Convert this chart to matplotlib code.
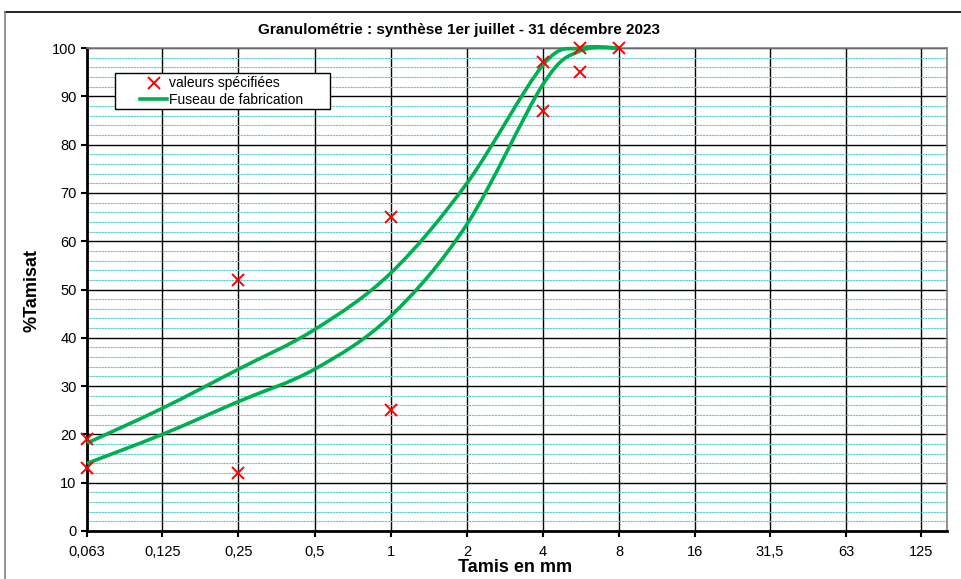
import numpy as np
import matplotlib
matplotlib.use("Agg")
from matplotlib import pyplot as plt
from matplotlib.path import Path
from matplotlib.patches import PathPatch, Rectangle
from matplotlib.lines import Line2D
from matplotlib.ticker import MultipleLocator, NullLocator, FixedLocator, FixedFormatter

plt.rcParams["font.family"] = ["Liberation Sans", "DejaVu Sans"]

# sieve ticks
tick_values = [0.063, 0.125, 0.25, 0.5, 1, 2, 4, 8, 16, 31.5, 63, 125]
tick_labels = ["0,063", "0,125", "0,25", "0,5", "1", "2", "4", "8", "16", "31,5", "63", "125"]

# specified values (red crosses)
spec_x = [0.063, 0.063, 0.25, 0.25, 1, 1, 4, 4, 5.6, 5.6, 8]
spec_y = [19, 13, 52, 12, 65, 25, 97, 87, 100, 95, 100]

# production envelope (fuseau de fabrication)
fuseau_x = [0.063, 0.125, 0.25, 0.5, 1, 2, 4, 5.6, 8]
fuseau_upper = [18.2, 25.4, 33.5, 41.7, 53.4, 72, 96.5, 100, 100]
fuseau_lower = [14, 20, 26.8, 33.5, 44.5, 63.5, 92.5, 99.4, 100]

GREEN = "#00b050"
RED = "#ff0000"


def smooth_path(xs, ys):
    # Excel-like smoothed line: cubic bezier through the points, in log2(x) space
    lx = np.log2(np.asarray(xs, dtype=float))
    ly = np.asarray(ys, dtype=float)
    pts = np.column_stack([lx, ly])
    n = len(pts)
    verts = [pts[0]]
    codes = [Path.MOVETO]
    for i in range(n - 1):
        p0 = pts[max(i - 1, 0)]
        p1 = pts[i]
        p2 = pts[i + 1]
        p3 = pts[min(i + 2, n - 1)]
        c1 = p1 + (p2 - p0) / 6.0
        c2 = p2 - (p3 - p1) / 6.0
        verts += [c1, c2, p2]
        codes += [Path.CURVE4] * 3
    verts = np.array(verts)
    verts[:, 0] = 2.0 ** verts[:, 0]
    return Path(verts, codes)


fig = plt.figure(figsize=(9.61, 5.79), dpi=100)
ax = fig.add_axes([87 / 961, 48 / 579, 860 / 961, 483 / 579])

ax.set_xscale("log", base=2)
ax.set_xlim(0.063, 158)
ax.set_ylim(0, 100)

# grid
ax.yaxis.set_major_locator(MultipleLocator(10))
ax.yaxis.set_minor_locator(MultipleLocator(2))
ax.xaxis.set_major_locator(FixedLocator(tick_values))
ax.xaxis.set_major_formatter(FixedFormatter(tick_labels))
ax.xaxis.set_minor_locator(NullLocator())
ax.grid(which="minor", axis="y", color="#55cfcf", lw=0.8, ls=(0, (2, 0.6)), zorder=0)
ax.grid(which="major", axis="both", color="black", lw=1.0, zorder=0.5)
ax.set_axisbelow(True)

ax.tick_params(axis="both", which="major", labelsize=10.5, direction="out",
               length=4, width=1.5, color="black")
ax.tick_params(axis="both", which="minor", length=0)
ax.tick_params(axis="x", pad=6)

for side in ["left", "bottom"]:
    ax.spines[side].set_linewidth(2)
    ax.spines[side].set_color("black")
for side in ["top", "right"]:
    ax.spines[side].set_linewidth(1.2)
    ax.spines[side].set_color("#808080")

# curves
for ys in [fuseau_upper, fuseau_lower]:
    ax.add_patch(PathPatch(smooth_path(fuseau_x, ys), fill=False,
                           edgecolor=GREEN, lw=2.6, zorder=3, clip_on=False))

ax.plot(spec_x, spec_y, ls="none", marker="x", ms=8, mew=1.4,
        color=RED, zorder=4, clip_on=False)

# legend: frame drawn separately to get Excel's wide left padding
fig.add_artist(Rectangle((115 / 961, 1 - 109 / 579), 215 / 961, 36 / 579,
                         transform=fig.transFigure, facecolor="white",
                         edgecolor="black", lw=1.0, zorder=5))
handles = [
    Line2D([], [], ls="none", marker="x", ms=8, mew=1.4, color=RED),
    Line2D([], [], color=GREEN, lw=2.6),
]
leg = fig.legend(handles, ["valeurs spécifiées", "Fuseau de fabrication"],
                 loc="upper left", bbox_to_anchor=(137 / 961, 1 - 73 / 579),
                 bbox_transform=fig.transFigure, borderaxespad=0, frameon=False,
                 fontsize=10, handlelength=1.9, handletextpad=0.15,
                 labelspacing=0.15, borderpad=0.25)
leg.set_zorder(6)

# texts
fig.text(459 / 961, 1 - 30 / 579, "Granulométrie : synthèse 1er juillet - 31 décembre 2023",
         ha="center", va="center", fontsize=11, fontweight="bold")
fig.text(32 / 961, 1 - 290 / 579, "%Tamisat", ha="center", va="center",
         rotation=90, fontsize=13, fontweight="bold")
fig.text(515 / 961, 1 - 568 / 579, "Tamis en mm", ha="center", va="center",
         fontsize=13, fontweight="bold")

# chart frame
fig.add_artist(Line2D([5 / 961, 1.0], [1 - 12 / 579, 1 - 12 / 579], color="black", lw=1.2))
fig.add_artist(Line2D([5 / 961, 5 / 961], [0, 1 - 12 / 579], color="#808080", lw=1.2))

fig.savefig("out.png", dpi=100)
